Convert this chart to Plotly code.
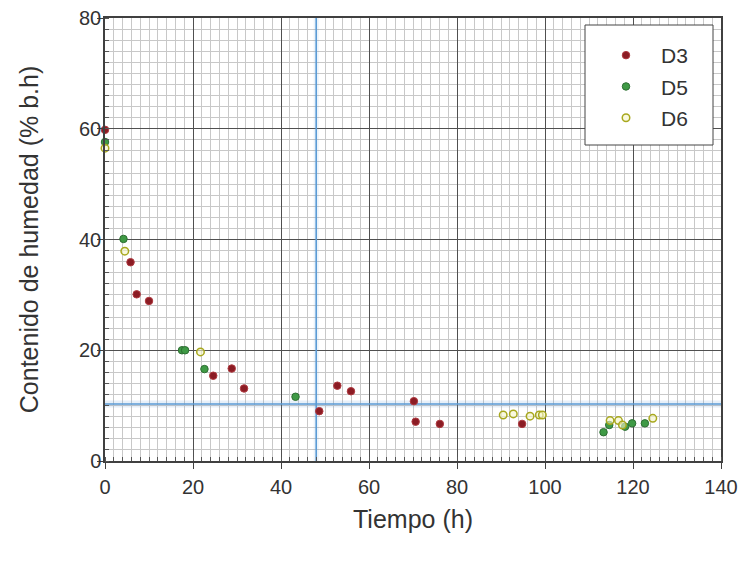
import plotly.graph_objects as go

# Drying curves: moisture content vs. time for three runs
d3_t = [0, 5.8, 7.2, 10.0, 24.6, 28.8, 31.6, 48.7, 52.8, 55.9, 70.2, 70.6, 76.1, 94.8]
d3_h = [59.8, 35.9, 30.1, 28.9, 15.4, 16.7, 13.1, 9.0, 13.6, 12.6, 10.8, 7.1, 6.7, 6.7]

d5_t = [0, 4.2, 17.5, 18.2, 22.6, 43.3, 113.3, 114.6, 118.2, 119.8, 122.7]
d5_h = [57.6, 40.1, 20.0, 20.0, 16.6, 11.6, 5.2, 6.5, 6.2, 6.8, 6.8]

d6_t = [0, 4.5, 21.7, 90.5, 92.8, 96.6, 98.7, 99.4, 114.8, 116.7, 117.6, 124.5]
d6_h = [56.5, 37.9, 19.7, 8.3, 8.5, 8.1, 8.3, 8.3, 7.3, 7.3, 6.5, 7.7]

# Reference lines
t_ref = 48
h_ref = 10.3

x_range = [0, 140]
y_range = [0, 80]
x_ticks = [0, 20, 40, 60, 80, 100, 120, 140]
y_ticks = [0, 20, 40, 60, 80]

FONT = "Liberation Sans, Arial, sans-serif"
TXT = "#333333"
MAJOR = "#505050"
MINOR = "#c8c8c8"
BLUE = "#5b9bd5"

fig = go.Figure()

# reference levels (halo + line), drawn beneath the markers
fig.add_trace(go.Scatter(x=x_range, y=[h_ref, h_ref], mode="lines", showlegend=False,
                         hoverinfo="skip", line=dict(color="rgba(91,155,213,0.15)", width=7)))
fig.add_trace(go.Scatter(x=[t_ref, t_ref], y=y_range, mode="lines", showlegend=False,
                         hoverinfo="skip", line=dict(color="rgba(91,155,213,0.12)", width=5)))
fig.add_trace(go.Scatter(x=x_range, y=[h_ref, h_ref], mode="lines", showlegend=False,
                         hoverinfo="skip", line=dict(color=BLUE, width=1.5)))
fig.add_trace(go.Scatter(x=[t_ref, t_ref], y=y_range, mode="lines", showlegend=False,
                         hoverinfo="skip", line=dict(color=BLUE, width=1.6)))

fig.add_trace(go.Scatter(
    x=d3_t, y=d3_h, mode="markers", name="D3", legendgroup="a",
    marker=dict(size=7.5, color="#8b1c24", line=dict(color="#b03a40", width=1)),
    cliponaxis=False))
fig.add_trace(go.Scatter(
    x=d5_t, y=d5_h, mode="markers", name="D5", legendgroup="b",
    marker=dict(size=7.5, color="#3f9a45", line=dict(color="#2e6e33", width=1)),
    cliponaxis=False))
fig.add_trace(go.Scatter(
    x=d6_t, y=d6_h, mode="markers", name="D6", legendgroup="c",
    marker=dict(size=7.5, color="rgba(245,245,200,0.6)", line=dict(color="#a8a81e", width=1.5)),
    cliponaxis=False))

# legend frame
fig.add_shape(type="rect", xref="paper", yref="paper",
              x0=(585 - 105) / 616, x1=(713 - 105) / 616,
              y0=(461 - 145) / 443, y1=(461 - 25) / 443,
              line=dict(color="#444444", width=1), fillcolor="white", layer="above")

axis_common = dict(
    showline=True, linecolor="#404040", linewidth=1.5, mirror=True,
    ticks="outside", ticklen=6, tickcolor="#404040", tickwidth=1,
    showgrid=True, gridcolor=MAJOR, gridwidth=1.4,
    zeroline=False, automargin=False,
    tickfont=dict(family=FONT, size=20, color=TXT),
)

fig.update_xaxes(
    range=x_range, tickvals=x_ticks, ticktext=[str(v) for v in x_ticks],
    minor=dict(dtick=2, showgrid=True, gridcolor=MINOR, gridwidth=1,
               ticks="inside", ticklen=4, tickcolor="#555555"),
    ticklabelstandoff=1,
    title=dict(text="Tiempo (h)", font=dict(family=FONT, size=25, color=TXT), standoff=14),
    **axis_common)
fig.update_yaxes(
    range=y_range, tickvals=y_ticks, ticktext=[str(v) for v in y_ticks],
    minor=dict(dtick=2, showgrid=True, gridcolor=MINOR, gridwidth=1,
               ticks="inside", ticklen=4, tickcolor="#555555"),
    ticklabelstandoff=-8,
    title=dict(text="Contenido de humedad (% b.h)", font=dict(family=FONT, size=25, color=TXT), standoff=33),
    **axis_common)

fig.update_layout(
    width=743, height=563,
    margin=dict(l=105, r=22, t=18, b=102),
    plot_bgcolor="white", paper_bgcolor="white",
    font=dict(family=FONT, color=TXT),
    legend=dict(x=(591 - 105) / 616, xanchor="left", y=(461 - 35) / 443, yanchor="top",
                bgcolor="rgba(0,0,0,0)", borderwidth=0,
                font=dict(family=FONT, size=21, color=TXT),
                traceorder="grouped", tracegroupgap=1, itemsizing="trace", itemwidth=60),
)

fig.write_html("out.html")
